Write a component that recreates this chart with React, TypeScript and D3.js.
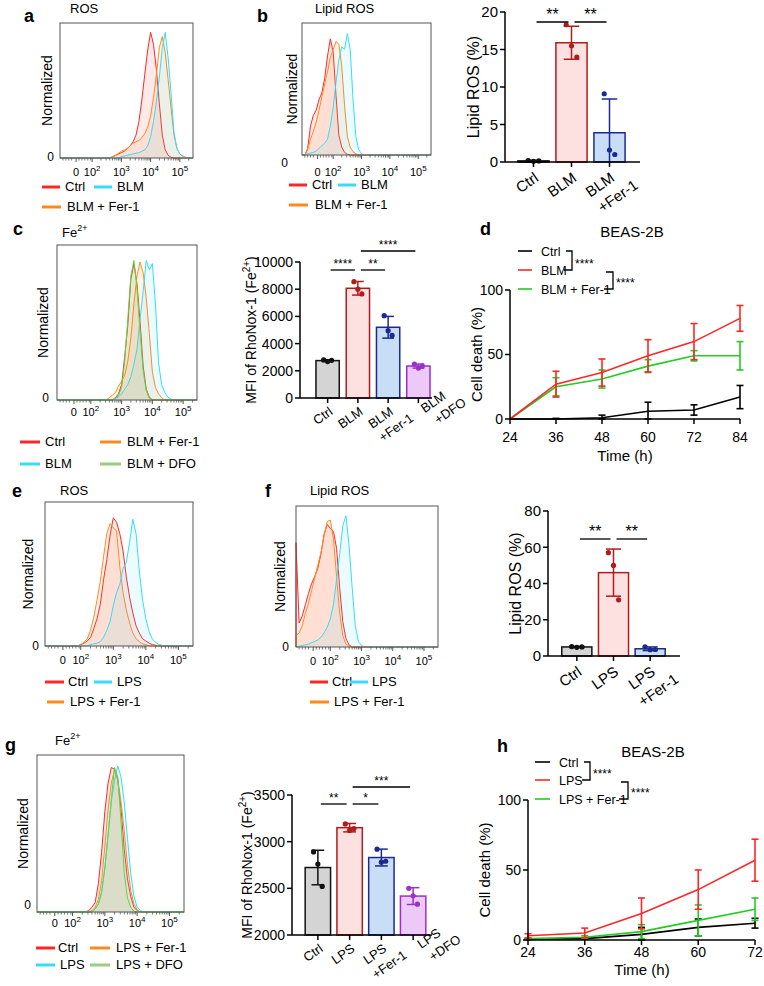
import React from 'react';
import * as d3 from 'd3';

const FONT = '"Liberation Sans", Arial, Helvetica, sans-serif';
const RED = '#ff2626';
const CYAN = '#38dcf6';
const ORANGE = '#ff8a1c';
const GREEN = '#52dc42';
const GREEN_LEG = '#9ccd7e';

// ---------- flow histograms (x in decade units, bins of 0.1) ----------
const HSTEP = 0.1;
const DMIN = 0.9;
const DMAX = 5.45;
const histTickPos = [1.45, 2, 3, 4, 5];
const histTickExp = ['', '2', '3', '4', '5'];

const blmNames = ['Ctrl', 'BLM', 'BLM + Fer-1', 'BLM + DFO'];
const lpsNames = ['Ctrl', 'LPS', 'LPS + Fer-1', 'LPS + DFO'];

// panel a ROS
const aCtrlStart = 2.6;
const aCtrl = [0, 1, 2, 3, 4, 5, 7, 9, 12, 17, 27, 43, 62, 80, 93, 84, 65, 40, 17, 6, 2, 0.5, 0];
const aBlmStart = 2.9;
const aBlm = [0, 1, 1.5, 2, 2.5, 3, 3.5, 4, 5, 6, 9, 16, 27, 42, 60, 82, 93, 74, 48, 19, 7, 3, 1, 0];
const aFerStart = 2.6;
const aFer = [0, 1, 2, 3.5, 5, 6, 7, 9, 11, 12, 13, 15, 18, 23, 31, 45, 62, 82, 90, 78, 58, 37, 17, 7, 3, 1.5, 0.5, 0];

// panel b lipid ROS
const bCtrlStart = 0.9;
const bCtrl = [0, 0, 5, 22, 30, 34, 42, 47, 58, 75, 88, 78, 45, 15, 6, 2, 0.5, 0];
const bBlmStart = 1.0;
const bBlm = [0, 1, 1.5, 2, 3, 5, 7, 9, 12, 22, 36, 55, 72, 82, 80, 92, 80, 42, 14, 4, 1, 0];
const bFerStart = 0.9;
const bFer = [0, 0, 4, 12, 18, 25, 34, 44, 54, 63, 74, 80, 86, 84, 68, 38, 14, 6, 2.5, 1, 0];

// panel c Fe2+
const cCtrlStart = 2.7;
const cCtrl = [0, 1.5, 4, 10, 28, 48, 78, 88, 75, 50, 22, 7, 2, 0];
const cFerStart = 2.5;
const cFer = [0, 1.5, 3, 5, 9, 12, 16, 25, 40, 62, 80, 89, 82, 66, 43, 18, 8, 4, 1.5, 0];
const cBlmStart = 2.7;
const cBlm = [0, 1, 2, 4, 7, 10, 15, 23, 33, 52, 70, 90, 84, 88, 62, 24, 10, 5, 2, 0.5, 0];
const cDfoStart = 2.7;
const cDfo = [0, 1, 3, 8, 25, 52, 80, 90, 72, 44, 19, 6, 1, 0];

// panel e ROS (LPS)
const eCtrlStart = 1.9;
const eCtrl = [0, 1, 2, 3.5, 6, 12, 19, 29, 46, 60, 77, 89, 86, 78, 66, 48, 34, 23, 14, 9, 5, 3.5, 2, 1, 0.5, 0];
const eLpsStart = 2.2;
const eLps = [0, 1, 1.5, 2, 3, 6, 11, 17, 28, 37, 43, 54, 58, 72, 88, 78, 52, 32, 19, 10, 5, 2.5, 1, 0.5, 0];
const eFerStart = 1.9;
const eFer = [0, 1, 2.5, 5, 11, 20, 32, 45, 62, 78, 85, 82, 80, 55, 37, 25, 16, 9, 5, 3, 1.5, 1, 0];

// panel f lipid ROS (LPS)
const fCtrlStart = 0.9;
const fCtrl = [74, 17, 22, 30, 38, 45, 50, 56, 66, 80, 87, 84, 82, 70, 42, 18, 6, 1.5, 0];
const fLpsStart = 0.9;
const fLps = [0, 0.5, 1, 1.5, 2, 3, 4, 5, 7, 10, 14, 20, 30, 48, 66, 86, 93, 72, 42, 15, 4, 1, 0];
const fFerStart = 0.9;
const fFer = [8, 10, 15, 24, 31, 40, 49, 58, 67, 79, 89, 90, 77, 50, 24, 8, 2, 0.5, 0];

// panel g Fe2+ (LPS)
const gCtrlStart = 2.4;
const gCtrl = [0, 1, 3, 6, 18, 38, 64, 82, 92, 91, 84, 66, 40, 21, 10, 3, 1, 0];
const gLpsStart = 2.6;
const gLps = [0, 2, 5, 12, 28, 50, 70, 84, 93, 86, 70, 47, 25, 10, 3, 1, 0];
const gFerStart = 2.5;
const gFer = [0, 1, 3, 8, 20, 42, 65, 82, 91, 85, 70, 52, 30, 14, 5, 1.5, 0];
const gDfoStart = 2.6;
const gDfo = [0, 2, 5, 13, 28, 48, 72, 92, 86, 58, 25, 9, 3, 0.5, 0];

// ---------- bar charts ----------
const bBarCats = [['Ctrl'], ['BLM'], ['BLM', '+Fer-1']];
const bBarMeans = [0.15, 15.9, 3.9];
const bBarSd = [0.08, 2.2, 4.5];
const bBarPts = [[0.2, 0.1, 0.15], [18.3, 15.5, 14.0], [9.1, 1.6, 1.0]];
const bBarTicks = [0, 5, 10, 15, 20];
const bBarSig: [number, number, string, number][] = [[0, 1, '**', 0], [1, 2, '**', 0]];

const cBarCats = [['Ctrl'], ['BLM'], ['BLM', '+Fer-1'], ['BLM', '+DFO']];
const cBarMeans = [2750, 8067, 5200, 2350];
const cBarSd = [60, 500, 800, 150];
const cBarPts = [[2800, 2680, 2770], [8550, 8000, 7650], [6050, 4950, 4600], [2500, 2200, 2350]];
const cBarTicks = [0, 2000, 4000, 6000, 8000, 10000];
const cBarSig: [number, number, string, number][] = [[0, 1, '****', 0], [1, 2, '**', 0], [1, 3, '****', 1]];

const fBarCats = [['Ctrl'], ['LPS'], ['LPS', '+Fer-1']];
const fBarMeans = [5, 46, 4];
const fBarSd = [0.3, 13, 1];
const fBarPts = [[5.2, 4.8, 5], [57, 50, 31], [5, 3.5, 3.6]];
const fBarTicks = [0, 20, 40, 60, 80];
const fBarSig: [number, number, string, number][] = [[0, 1, '**', 0], [1, 2, '**', 0]];

const gBarCats = [['Ctrl'], ['LPS'], ['LPS', '+Fer-1'], ['LPS', '+DFO']];
const gBarMeans = [2723, 3150, 2830, 2417];
const gBarSd = [185, 45, 90, 90];
const gBarPts = [[2890, 2760, 2520], [3190, 3120, 3140], [2920, 2780, 2790], [2500, 2420, 2330]];
const gBarTicks = [2000, 2500, 3000, 3500];
const gBarSig: [number, number, string, number][] = [[0, 1, '**', 0], [1, 2, '*', 0], [1, 3, '***', 1]];

const barFills = ['#d4d4d4', '#fde0e0', '#c8ddf6', '#ecc9f7'];
const barStrokes = ['#111111', '#b01c1c', '#1c2a90', '#9b30c8'];

// ---------- cell death time courses ----------
const dTimes = [24, 36, 48, 60, 72, 84];
const dCtrl = [0, 0, 1, 6, 7, 17];
const dCtrlSd = [0, 0.5, 2, 7, 4, 9];
const dBlm = [0, 27, 36, 49, 60, 78];
const dBlmSd = [0, 10, 10.5, 12.5, 14, 10];
const dFer = [0, 25, 31, 41, 49, 49];
const dFerSd = [0, 7, 7, 5, 4, 11];

const hTimes = [24, 36, 48, 60, 72];
const hCtrl = [0.5, 1, 4, 9, 12];
const hCtrlSd = [0.3, 0.5, 5, 6, 3.5];
const hLps = [3, 5, 19, 36, 57];
const hLpsSd = [1.5, 3.5, 11, 14, 15];
const hFer = [1, 2, 6, 14, 22];
const hFerSd = [0.5, 1, 5, 11, 8];

const deathTicks = [0, 50, 100];

// ---------- components ----------
type HCurve = { start: number; vals: number[]; color: string };

function Histogram(props: {
  box: [number, number, number, number];
  curves: HCurve[];
  zeroX: number;
  zeroY: number;
  tickY: number;
  normX: number;
}) {
  const [x0, y0, x1, y1] = props.box;
  const x = d3.scaleLinear().domain([DMIN, DMAX]).range([x0, x1]);
  const y = d3.scaleLinear().domain([0, 100]).range([y1, y0]);
  const area = d3.area<number[]>().x(d => x(d[0])).y0(y(0)).y1(d => y(d[1]));
  const line = d3.line<number[]>().x(d => x(d[0])).y(d => y(d[1]));
  const toPts = (c: HCurve) => [[DMIN, 0], ...c.vals.map((v, i) => [c.start + i * HSTEP, v]), [DMAX, 0]];
  const minor: number[] = [1.0, 1.1, 1.2, 1.3, 1.55, 1.65, 1.75, 1.85, 1.95];
  [2, 3, 4, 5].forEach(dd => d3.range(2, 10).forEach(k => {
    const v = dd + Math.log10(k);
    if (v < DMAX) minor.push(v);
  }));
  const midY = (y0 + y1) / 2;
  return (
    <g>
      {props.curves.map((c, i) => (
        <g key={i}>
          <path d={area(toPts(c)) || ''} fill={c.color} fillOpacity={0.1} />
          <path d={line(toPts(c)) || ''} fill="none" stroke={c.color} strokeWidth={1} />
        </g>
      ))}
      <rect x={x0} y={y0} width={x1 - x0} height={y1 - y0} fill="none" stroke="#555" strokeWidth={1} />
      {minor.map((v, i) => (
        <line key={'m' + i} x1={x(v)} x2={x(v)} y1={y1} y2={y1 + 2.5} stroke="#555" strokeWidth={0.8} />
      ))}
      {histTickPos.map((v, i) => (
        <line key={'t' + i} x1={x(v)} x2={x(v)} y1={y1} y2={y1 + 4} stroke="#555" strokeWidth={1} />
      ))}
      {histTickPos.map((v, i) => (
        <text key={'l' + i} x={x(v)} y={props.tickY} fontSize={11} textAnchor="middle">
          {histTickExp[i] === '' ? '0' : '10'}
          {histTickExp[i] !== '' && <tspan dy={-5} fontSize={8}>{histTickExp[i]}</tspan>}
        </text>
      ))}
      <text x={props.zeroX} y={props.zeroY} fontSize={12} textAnchor="end">0</text>
      <text transform={`translate(${props.normX},${midY}) rotate(-90)`} fontSize={14} textAnchor="middle">Normalized</text>
    </g>
  );
}

type LegItem = { x1: number; x2: number; tx: number; y: number; color: string; label: string };
function HLegend({ items }: { items: LegItem[] }) {
  return (
    <g>
      {items.map((it, i) => (
        <g key={i}>
          <line x1={it.x1} x2={it.x2} y1={it.y + 1} y2={it.y + 1} stroke={it.color} strokeWidth={3} />
          <text x={it.tx} y={it.y + 5} fontSize={13}>{it.label}</text>
        </g>
      ))}
    </g>
  );
}

function BarChart(p: {
  axisX: number; axisEnd: number; yTop: number; yBot: number; domain: [number, number];
  ticks: number[]; band: [number, number]; pad: number; cats: string[][]; means: number[];
  sds: number[]; pts: number[][]; sig: [number, number, string, number][]; sigY: number;
  sigStep: number; starSize: number; font: number; tickFont: number; ylabel: React.ReactNode; ylabelX: number; ylabelSize: number;
}) {
  const y = d3.scaleLinear().domain(p.domain).range([p.yBot, p.yTop]);
  const xb = d3.scaleBand<number>().domain(d3.range(p.cats.length)).range(p.band).paddingInner(p.pad).paddingOuter(p.pad / 2);
  const bw = xb.bandwidth();
  const cx = (i: number) => (xb(i) as number) + bw / 2;
  const base = p.domain[0];
  const f = p.font;
  return (
    <g>
      {p.means.map((m, i) => (
        <rect key={'b' + i} x={xb(i)} y={y(m)} width={bw} height={Math.max(0.5, y(base) - y(m))}
          fill={barFills[i]} stroke={barStrokes[i]} strokeWidth={1.5} />
      ))}
      {p.means.map((m, i) => {
        const hi = y(m + p.sds[i]);
        const loV = Math.max(base, m - p.sds[i]);
        const lo = y(loV);
        const cw = bw * 0.25;
        return (
          <g key={'e' + i} stroke={barStrokes[i]} strokeWidth={1.5}>
            <line x1={cx(i)} x2={cx(i)} y1={hi} y2={lo} />
            <line x1={cx(i) - cw} x2={cx(i) + cw} y1={hi} y2={hi} />
            {loV > base && <line x1={cx(i) - cw} x2={cx(i) + cw} y1={lo} y2={lo} />}
          </g>
        );
      })}
      {p.pts.map((arr, i) => arr.map((v, j) => (
        <circle key={`p${i}-${j}`} cx={cx(i) + (j - 1) * bw * 0.17} cy={y(v)} r={2.6} fill={barStrokes[i]} />
      )))}
      <line x1={p.axisX} x2={p.axisX} y1={p.yTop} y2={p.yBot} stroke="#000" strokeWidth={1.5} />
      <line x1={p.axisX} x2={p.axisEnd} y1={p.yBot} y2={p.yBot} stroke="#000" strokeWidth={1.5} />
      {p.ticks.map(t => (
        <g key={'t' + t}>
          <line x1={p.axisX - 5} x2={p.axisX} y1={y(t)} y2={y(t)} stroke="#000" strokeWidth={1.5} />
          <text x={p.axisX - 7} y={y(t)} dy="0.35em" textAnchor="end" fontSize={p.tickFont}>{t}</text>
        </g>
      ))}
      {p.cats.map((c, i) => {
        const shift = i > 0 && p.cats[i - 1].length > 1 ? f * 2.1 : 0;
        return (
          <g key={'c' + i}>
            <line x1={cx(i)} x2={cx(i)} y1={p.yBot} y2={p.yBot + 5} stroke="#000" strokeWidth={1.5} />
            <g transform={`translate(${cx(i) + 6},${p.yBot + f * 1.2}) rotate(-35)`}>
              {c.map((s, k) => (
                <text key={k} x={shift + k * f} y={k * f * 1.3} textAnchor="end" fontSize={f}>{s}</text>
              ))}
            </g>
          </g>
        );
      })}
      {p.sig.map(([a, b, lab, lev], i) => {
        const yy = p.sigY - lev * p.sigStep;
        const xa = cx(a) + 3;
        const xz = cx(b) - 3;
        return (
          <g key={'s' + i}>
            <line x1={xa} x2={xz} y1={yy} y2={yy} stroke="#000" strokeWidth={1.3} />
            <text x={(xa + xz) / 2} y={yy - 2} textAnchor="middle" fontSize={p.starSize}>{lab}</text>
          </g>
        );
      })}
      <text transform={`translate(${p.ylabelX},${(p.yTop + p.yBot) / 2}) rotate(-90)`} textAnchor="middle" fontSize={p.ylabelSize}>{p.ylabel}</text>
    </g>
  );
}

type LSeries = { vals: number[]; sd: number[]; color: string };
function DeathChart(p: {
  axisX: number; xEnd: number; yTop: number; yBot: number; times: number[]; series: LSeries[];
  labelY: number; timeX: number; timeY: number; ylabX: number;
}) {
  const x = d3.scaleLinear().domain([p.times[0], p.times[p.times.length - 1]]).range([p.axisX, p.xEnd]);
  const y = d3.scaleLinear().domain([0, 100]).range([p.yBot, p.yTop]);
  const line = d3.line<number>().x((_, i) => x(p.times[i])).y(d => y(d));
  return (
    <g>
      {p.series.map((s, si) => (
        <g key={si}>
          <path d={line(s.vals) || ''} fill="none" stroke={s.color} strokeWidth={1.6} />
          {s.vals.map((v, i) => {
            if (s.sd[i] <= 0) return null;
            const hi = y(v + s.sd[i]);
            const lo = y(Math.max(0, v - s.sd[i]));
            const xx = x(p.times[i]);
            return (
              <g key={i} stroke={s.color} strokeWidth={1.6}>
                <line x1={xx} x2={xx} y1={hi} y2={lo} />
                <line x1={xx - 3.5} x2={xx + 3.5} y1={hi} y2={hi} />
                <line x1={xx - 3.5} x2={xx + 3.5} y1={lo} y2={lo} />
              </g>
            );
          })}
        </g>
      ))}
      <line x1={p.axisX} x2={p.axisX} y1={p.yTop} y2={p.yBot} stroke="#000" strokeWidth={1.5} />
      <line x1={p.axisX} x2={p.xEnd} y1={p.yBot} y2={p.yBot} stroke="#000" strokeWidth={1.5} />
      {deathTicks.map(t => (
        <g key={'y' + t}>
          <line x1={p.axisX - 5} x2={p.axisX} y1={y(t)} y2={y(t)} stroke="#000" strokeWidth={1.5} />
          <text x={p.axisX - 7} y={y(t)} dy="0.35em" textAnchor="end" fontSize={14}>{t}</text>
        </g>
      ))}
      {p.times.map(t => (
        <g key={'x' + t}>
          <line x1={x(t)} x2={x(t)} y1={p.yBot} y2={p.yBot + 5} stroke="#000" strokeWidth={1.5} />
          <text x={x(t)} y={p.labelY} textAnchor="middle" fontSize={14}>{t}</text>
        </g>
      ))}
      <text x={p.timeX} y={p.timeY} textAnchor="middle" fontSize={15}>Time (h)</text>
      <text transform={`translate(${p.ylabX},${(p.yTop + p.yBot) / 2}) rotate(-90)`} textAnchor="middle" fontSize={15}>Cell death (%)</text>
    </g>
  );
}

function DeathLegend(p: { names: string[]; colors: string[]; rows: number[]; lx1: number; lx2: number; tx: number; br1: number; br2: number }) {
  const [r0, r1, r2] = p.rows;
  return (
    <g>
      {p.names.map((n, i) => (
        <g key={i}>
          <line x1={p.lx1} x2={p.lx2} y1={p.rows[i]} y2={p.rows[i]} stroke={p.colors[i]} strokeWidth={1.6} />
          <text x={p.tx} y={p.rows[i] + 4.5} fontSize={12.5}>{n}</text>
        </g>
      ))}
      <path d={`M${p.br1 - 6},${r0} H${p.br1} V${r1} H${p.br1 - 8}`} fill="none" stroke="#000" strokeWidth={1.3} />
      <text x={p.br1 + 3} y={(r0 + r1) / 2 + 7} fontSize={12}>****</text>
      <path d={`M${p.br2 - 7},${r1 + 2} H${p.br2} V${r2} H${p.br2 - 9}`} fill="none" stroke="#000" strokeWidth={1.3} />
      <text x={p.br2 + 3} y={(r1 + r2) / 2 + 7} fontSize={12}>****</text>
    </g>
  );
}

const Fe = () => (<>Fe<tspan dy={-6} fontSize={9}>2+</tspan></>);
const MFI = () => (<>MFI of RhoNox-1 (Fe<tspan dy={-6} fontSize={10}>2+</tspan><tspan dy={6}>)</tspan></>);

export default function App() {
  return (
    <svg width={764} height={986} style={{ position: 'absolute', left: 0, top: 0 }} fontFamily={FONT}>
      <rect width={764} height={986} fill="#fff" />

      {/* ---------------- a ---------------- */}
      <text x={24} y={22} fontSize={18} fontWeight="bold">a</text>
      <text x={70} y={13} fontSize={13}>ROS</text>
      <Histogram box={[60, 23, 193, 158]} zeroX={54} zeroY={161} tickY={176} normX={52}
        curves={[
          { start: aCtrlStart, vals: aCtrl, color: RED },
          { start: aFerStart, vals: aFer, color: ORANGE },
          { start: aBlmStart, vals: aBlm, color: CYAN },
        ]} />
      <HLegend items={[
        { x1: 42, x2: 60, tx: 65, y: 186, color: RED, label: blmNames[0] },
        { x1: 94, x2: 112, tx: 117, y: 186, color: CYAN, label: blmNames[1] },
        { x1: 42, x2: 61, tx: 67, y: 206, color: ORANGE, label: blmNames[2] },
      ]} />

      {/* ---------------- b ---------------- */}
      <text x={257} y={22} fontSize={18} fontWeight="bold">b</text>
      <text x={315} y={13} fontSize={13}>Lipid ROS</text>
      <Histogram box={[302, 23, 431, 155]} zeroX={288} zeroY={167} tickY={176} normX={297}
        curves={[
          { start: bCtrlStart, vals: bCtrl, color: RED },
          { start: bFerStart, vals: bFer, color: ORANGE },
          { start: bBlmStart, vals: bBlm, color: CYAN },
        ]} />
      <HLegend items={[
        { x1: 289, x2: 307, tx: 312, y: 184, color: RED, label: blmNames[0] },
        { x1: 338, x2: 356, tx: 361, y: 184, color: CYAN, label: blmNames[1] },
        { x1: 289, x2: 308, tx: 315, y: 204, color: ORANGE, label: blmNames[2] },
      ]} />
      <BarChart axisX={505} axisEnd={640} yTop={12} yBot={162} domain={[0, 20]} ticks={bBarTicks}
        band={[514.5, 628.5]} pad={0.18} cats={bBarCats} means={bBarMeans} sds={bBarSd} pts={bBarPts}
        sig={bBarSig} sigY={22} sigStep={16} starSize={16} font={15} tickFont={15}
        ylabel="Lipid ROS (%)" ylabelX={479} ylabelSize={16} />

      {/* ---------------- c ---------------- */}
      <text x={13} y={235} fontSize={18} fontWeight="bold">c</text>
      <text x={62} y={237} fontSize={13}><Fe /></text>
      <Histogram box={[57, 245, 197, 400]} zeroX={49} zeroY={402} tickY={416} normX={48}
        curves={[
          { start: cCtrlStart, vals: cCtrl, color: RED },
          { start: cFerStart, vals: cFer, color: ORANGE },
          { start: cBlmStart, vals: cBlm, color: CYAN },
          { start: cDfoStart, vals: cDfo, color: GREEN },
        ]} />
      <HLegend items={[
        { x1: 20, x2: 40, tx: 45, y: 441, color: RED, label: blmNames[0] },
        { x1: 100, x2: 121, tx: 127, y: 441, color: ORANGE, label: blmNames[2] },
        { x1: 20, x2: 40, tx: 45, y: 463, color: CYAN, label: blmNames[1] },
        { x1: 100, x2: 121, tx: 127, y: 463, color: GREEN_LEG, label: blmNames[3] },
      ]} />
      <BarChart axisX={300} axisEnd={432} yTop={262} yBot={398} domain={[0, 10000]} ticks={cBarTicks}
        band={[312.5, 433.5]} pad={0.23} cats={cBarCats} means={cBarMeans} sds={cBarSd} pts={cBarPts}
        sig={cBarSig} sigY={270} sigStep={19} starSize={12} font={13} tickFont={14}
        ylabel={<MFI />} ylabelX={256} ylabelSize={14} />

      {/* ---------------- d ---------------- */}
      <text x={480} y={235} fontSize={18} fontWeight="bold">d</text>
      <text x={632} y={237} fontSize={15} textAnchor="middle">BEAS-2B</text>
      <DeathLegend names={blmNames.slice(0, 3)} colors={['#000', RED, '#22cc22']} rows={[251, 270, 289]}
        lx1={518} lx2={532} tx={541} br1={572} br2={613} />
      <DeathChart axisX={510} xEnd={740} yTop={290} yBot={419} times={dTimes}
        series={[
          { vals: dCtrl, sd: dCtrlSd, color: '#000' },
          { vals: dFer, sd: dFerSd, color: '#22cc22' },
          { vals: dBlm, sd: dBlmSd, color: RED },
        ]}
        labelY={442} timeX={625} timeY={461} ylabX={482} />

      {/* ---------------- e ---------------- */}
      <text x={12} y={497} fontSize={18} fontWeight="bold">e</text>
      <text x={60} y={495} fontSize={13}>ROS</text>
      <Histogram box={[45, 502, 193, 646]} zeroX={39} zeroY={650} tickY={664} normX={33}
        curves={[
          { start: eCtrlStart, vals: eCtrl, color: RED },
          { start: eFerStart, vals: eFer, color: ORANGE },
          { start: eLpsStart, vals: eLps, color: CYAN },
        ]} />
      <HLegend items={[
        { x1: 45, x2: 64, tx: 68, y: 681, color: RED, label: lpsNames[0] },
        { x1: 94, x2: 112, tx: 117, y: 681, color: CYAN, label: lpsNames[1] },
        { x1: 47, x2: 64, tx: 70, y: 701, color: ORANGE, label: lpsNames[2] },
      ]} />

      {/* ---------------- f ---------------- */}
      <text x={265} y={497} fontSize={18} fontWeight="bold">f</text>
      <text x={310} y={495} fontSize={13}>Lipid ROS</text>
      <Histogram box={[296, 506, 438, 647]} zeroX={289} zeroY={651} tickY={665} normX={285}
        curves={[
          { start: fCtrlStart, vals: fCtrl, color: RED },
          { start: fFerStart, vals: fFer, color: ORANGE },
          { start: fLpsStart, vals: fLps, color: CYAN },
        ]} />
      <HLegend items={[
        { x1: 310, x2: 328, tx: 332, y: 681, color: RED, label: lpsNames[0] },
        { x1: 350, x2: 368, tx: 372, y: 681, color: CYAN, label: lpsNames[1] },
        { x1: 310, x2: 329, tx: 334, y: 701, color: ORANGE, label: lpsNames[2] },
      ]} />
      <BarChart axisX={548} axisEnd={680} yTop={511} yBot={656} domain={[0, 80]} ticks={fBarTicks}
        band={[558.5, 668.5]} pad={0.18} cats={fBarCats} means={fBarMeans} sds={fBarSd} pts={fBarPts}
        sig={fBarSig} sigY={539} sigStep={16} starSize={16} font={15} tickFont={15}
        ylabel="Lipid ROS (%)" ylabelX={521} ylabelSize={16} />

      {/* ---------------- g ---------------- */}
      <text x={5} y={751} fontSize={18} fontWeight="bold">g</text>
      <text x={55} y={745} fontSize={13}><Fe /></text>
      <Histogram box={[37, 755, 184, 912]} zeroX={31} zeroY={909} tickY={927} normX={28}
        curves={[
          { start: gCtrlStart, vals: gCtrl, color: RED },
          { start: gFerStart, vals: gFer, color: ORANGE },
          { start: gLpsStart, vals: gLps, color: CYAN },
          { start: gDfoStart, vals: gDfo, color: GREEN },
        ]} />
      <HLegend items={[
        { x1: 36, x2: 55, tx: 58, y: 947, color: RED, label: lpsNames[0] },
        { x1: 90, x2: 110, tx: 116, y: 947, color: ORANGE, label: lpsNames[2] },
        { x1: 36, x2: 55, tx: 60, y: 964, color: CYAN, label: lpsNames[1] },
        { x1: 90, x2: 110, tx: 116, y: 964, color: GREEN_LEG, label: lpsNames[3] },
      ]} />
      <BarChart axisX={292} axisEnd={432} yTop={795} yBot={935} domain={[2000, 3500]} ticks={gBarTicks}
        band={[302, 429]} pad={0.2} cats={gBarCats} means={gBarMeans} sds={gBarSd} pts={gBarPts}
        sig={gBarSig} sigY={804} sigStep={17} starSize={12} font={13} tickFont={14}
        ylabel={<MFI />} ylabelX={252} ylabelSize={14} />

      {/* ---------------- h ---------------- */}
      <text x={497} y={752} fontSize={18} fontWeight="bold">h</text>
      <text x={653} y={757} fontSize={15} textAnchor="middle">BEAS-2B</text>
      <DeathLegend names={lpsNames.slice(0, 3)} colors={['#000', RED, '#22cc22']} rows={[762, 780, 799]}
        lx1={535} lx2={550} tx={559} br1={590} br2={628} />
      <DeathChart axisX={528} xEnd={755} yTop={800} yBot={940} times={hTimes}
        series={[
          { vals: hCtrl, sd: hCtrlSd, color: '#000' },
          { vals: hFer, sd: hFerSd, color: '#22cc22' },
          { vals: hLps, sd: hLpsSd, color: RED },
        ]}
        labelY={957} timeX={642} timeY={975} ylabX={490} />
    </svg>
  );
}
